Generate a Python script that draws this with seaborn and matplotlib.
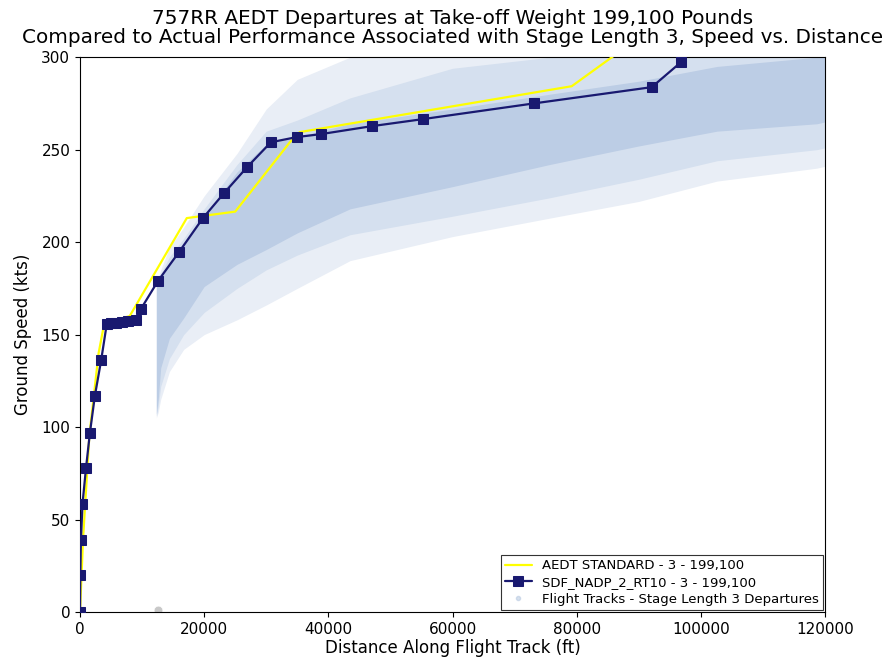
import numpy as np
import pandas as pd
import seaborn as sns
import matplotlib.pyplot as plt
from matplotlib.lines import Line2D

# AEDT standard profile (yellow)
aedt_x = [0, 500, 1500, 3000, 3900, 8000, 17200, 25000, 33800, 35400, 79200, 86500]
aedt_y = [0, 40, 95, 140, 156, 160, 213, 216.5, 254, 259.5, 284.3, 302]

# SDF_NADP_2_RT10 profile (navy, square markers)
nadp_x = [0, 50, 150, 400, 970, 1600, 2400, 3400, 4300, 5000, 5800, 6800, 7800, 9000,
          9800, 12560, 15940, 19800, 23200, 26900, 30750, 34900, 38800, 47000, 55200,
          73100, 92100, 96800]
nadp_y = [0, 20, 39, 58.4, 78, 97, 117, 136, 155.5, 156, 156.3, 156.7, 157.2, 158,
          163.8, 179, 194.6, 213, 226.5, 240.5, 254, 256.8, 258.4, 262.7, 266.5,
          275, 283.8, 297.3]

cloud_x = [12300, 12600, 13000, 14400, 16700, 20000, 25300, 30000, 35000, 43500,
           60000, 75700, 90000, 102600, 118700, 120000]
faint_lo = [105, 108, 115, 130, 142, 150, 158, 166, 175, 190,
            203, 213, 222, 233, 240, 241]
faint_hi = [177, 181, 185, 197, 208, 225, 248, 272, 288, 300,
            300, 300, 300, 300, 300, 300]
mid_lo = [106, 111, 122, 137, 150, 162, 175, 185, 193, 204,
          214, 224, 234, 244, 250, 251]
mid_hi = [177, 180, 183, 192, 202, 218, 242, 260, 266, 278,
          294, 300, 300, 300, 300, 300]
core_lo = [107, 115, 132, 148, 159, 176, 188, 196, 205, 218,
           230, 242, 252, 260, 264, 265]
core_hi = [176, 179, 182, 189, 199, 214, 238, 253, 257, 264,
           272, 280, 287, 295, 300, 300]
ground_x = [12500]
ground_y = [1]

aedt = pd.DataFrame({'x': aedt_x, 'y': aedt_y})
nadp = pd.DataFrame({'x': nadp_x, 'y': nadp_y})

sns.set_style('ticks')
plt.rcParams['font.family'] = ['DejaVu Sans']
plt.rcParams['text.color'] = 'black'
plt.rcParams['axes.labelcolor'] = 'black'

fig = plt.figure(figsize=(8.85, 6.65), dpi=100)
ax = fig.add_axes([0.0904, 0.0797, 0.8418, 0.8343])

track_col = '#b0c4de'
ax.fill_between(cloud_x, faint_lo, faint_hi, color='#e9eef6', lw=0, zorder=1)
ax.fill_between(cloud_x, mid_lo, mid_hi, color='#d5e0ef', lw=0, zorder=1)
ax.fill_between(cloud_x, core_lo, core_hi, color='#bccde5', lw=0, zorder=1)
sns.scatterplot(x=ground_x, y=ground_y, color='#c8c8c8', s=40, ax=ax, zorder=2,
                legend=False)

sns.lineplot(data=aedt, x='x', y='y', sort=False, color='#ffff00', lw=1.6,
             ax=ax, label='AEDT STANDARD - 3 - 199,100', zorder=3)
sns.lineplot(data=nadp, x='x', y='y', sort=False, color='#191970', lw=1.6,
             marker='s', markersize=7, markeredgecolor='#191970',
             ax=ax, label='SDF_NADP_2_RT10 - 3 - 199,100', zorder=4)

ax.set_xlim(0, 120000)
ax.set_ylim(0, 300)
ax.set_xticks(np.arange(0, 120001, 20000))
ax.set_yticks(np.arange(0, 301, 50))
ax.tick_params(labelsize=11, colors='black')
for s in ax.spines.values():
    s.set_color('black')
    s.set_linewidth(0.8)

ax.set_xlabel('Distance Along Flight Track (ft)', fontsize=12, labelpad=2)
ax.set_ylabel('Ground Speed (kts)', fontsize=12, labelpad=7)
ax.set_title('757RR AEDT Departures at Take-off Weight 199,100 Pounds\n'
             'Compared to Actual Performance Associated with Stage Length 3, Speed vs. Distance',
             fontsize=14.4, linespacing=1.0, pad=10)

handles, labels = ax.get_legend_handles_labels()
handles.append(Line2D([], [], marker='o', ls='', color=track_col, markersize=3, alpha=0.5))
labels.append('Flight Tracks - Stage Length 3 Departures')
leg = ax.legend(handles, labels, loc='lower right', fontsize=9.5, fancybox=False,
                framealpha=1, edgecolor='#333333', borderaxespad=0.15,
                borderpad=0.3, labelspacing=0.3)
leg.get_frame().set_linewidth(0.8)

fig.savefig('out.png', dpi=100)
